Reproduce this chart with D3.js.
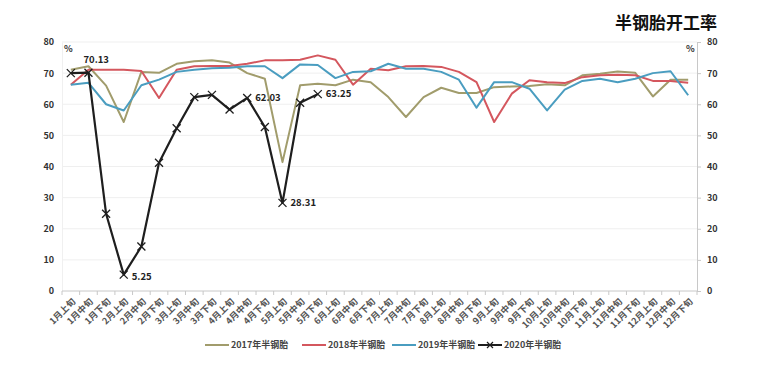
<!DOCTYPE html>
<html>
<head>
<meta charset="utf-8">
<script src="https://cdn.jsdelivr.net/npm/d3@7"></script>
<style>
  body { margin: 0; background: #fff; }
  svg text { font-family: "Noto Sans CJK SC", "DejaVu Sans", sans-serif; }
</style>
</head>
<body>
<div id="chart"></div>
<script>
// categories: 36 ten-day periods
const months = d3.range(1, 13);
const parts = ["上旬", "中旬", "下旬"];
const categories = [];
months.forEach(m => parts.forEach(p => categories.push(m + "月" + p)));

const seriesNames = ["2017年半钢胎", "2018年半钢胎", "2019年半钢胎", "2020年半钢胎"];
const colors = ["#a19c6c", "#d4575e", "#4a9dc0", "#1e1e1e"];

const values2017 = [71.1, 72.2, 66.0, 54.3, 70.4, 70.1, 73.0, 73.8, 74.1, 73.4, 70.0, 68.2,
                    41.4, 66.1, 66.6, 66.1, 67.9, 67.1, 62.3, 55.9, 62.3, 65.3, 63.6, 63.6,
                    65.5, 65.7, 65.9, 66.4, 66.1, 69.3, 69.8, 70.5, 70.1, 62.5, 67.9, 67.9];
const values2018 = [66.3, 71.1, 71.1, 71.1, 70.7, 62.0, 71.1, 72.2, 72.3, 72.3, 73.0, 74.1,
                    74.1, 74.3, 75.7, 74.3, 66.3, 71.4, 70.9, 72.2, 72.3, 72.0, 70.4, 67.1,
                    54.3, 63.4, 67.7, 67.1, 66.8, 68.7, 69.3, 69.5, 69.3, 67.5, 67.5, 66.9];
const values2019 = [66.3, 66.9, 60.0, 58.0, 66.1, 67.9, 70.4, 71.1, 71.6, 71.7, 72.2, 72.2,
                    68.4, 72.8, 72.6, 68.4, 70.4, 70.6, 73.0, 71.4, 71.4, 70.4, 67.9, 58.9,
                    67.1, 67.1, 65.0, 58.0, 64.7, 67.5, 68.2, 67.1, 68.2, 70.0, 70.6, 62.9];
const values2020 = [70.0, 70.13, 24.8, 5.25, 14.3, 41.2, 52.3, 62.3, 63.0, 58.3, 62.03, 52.7,
                    28.31, 60.5, 63.25];
const labelled2020 = [1, 3, 10, 12, 14];

const yTicks = [0, 10, 20, 30, 40, 50, 60, 70, 80];

const width = 769, height = 373;
const margin = { top: 42, right: 72, bottom: 82, left: 62 };

const svg = d3.select("#chart").append("svg")
  .attr("width", width)
  .attr("height", height);

const x = d3.scaleBand()
  .domain(categories)
  .range([margin.left, width - margin.right]);

const y = d3.scaleLinear()
  .domain([0, 80])
  .range([height - margin.bottom, margin.top]);

const cx = d => x(d) + x.bandwidth() / 2;

// gridlines
svg.append("g")
  .selectAll("line")
  .data(yTicks.slice(1))
  .enter().append("line")
  .attr("x1", margin.left).attr("x2", width - margin.right)
  .attr("y1", d => y(d)).attr("y2", d => y(d))
  .attr("stroke", "#efefef").attr("stroke-width", 1);

// left axis
const leftAxis = svg.append("g")
  .attr("transform", `translate(${margin.left},0)`)
  .call(d3.axisLeft(y).tickValues(yTicks).tickSize(0).tickPadding(8));
leftAxis.select(".domain").attr("stroke", "#f0f0f0");

// right axis
const rightAxis = svg.append("g")
  .attr("transform", `translate(${width - margin.right},0)`)
  .call(d3.axisRight(y).tickValues(yTicks).tickSize(4).tickPadding(6));
rightAxis.select(".domain").attr("stroke", "#c8c8c8");
rightAxis.selectAll(".tick line").attr("stroke", "#c8c8c8");

svg.selectAll(".tick text")
  .attr("font-size", 9).attr("font-weight", "bold").attr("fill", "#333");

// bottom axis with ticks on band boundaries
const y0 = y(0);
const xAxis = svg.append("g");
xAxis.append("line")
  .attr("x1", margin.left).attr("x2", width - margin.right)
  .attr("y1", y0).attr("y2", y0)
  .attr("stroke", "#c8c8c8");
xAxis.selectAll("line.tk")
  .data(categories.concat([null]))
  .enter().append("line")
  .attr("class", "tk")
  .attr("x1", d => d === null ? width - margin.right : x(d))
  .attr("x2", d => d === null ? width - margin.right : x(d))
  .attr("y1", y0).attr("y2", y0 + 4)
  .attr("stroke", "#c8c8c8");
xAxis.selectAll("text")
  .data(categories)
  .enter().append("text")
  .attr("transform", d => `translate(${cx(d) + 3},${y0 + 9}) rotate(-45)`)
  .attr("text-anchor", "end")
  .attr("dy", "0.35em")
  .attr("font-size", 9).attr("font-weight", "bold").attr("fill", "#555")
  .text(d => d);

// % units
svg.append("text").attr("x", margin.left + 2).attr("y", 52)
  .attr("font-size", 9).attr("font-weight", "bold").attr("fill", "#333").text("%");
svg.append("text").attr("x", width - margin.right - 11).attr("y", 52)
  .attr("font-size", 9).attr("font-weight", "bold").attr("fill", "#333").text("%");

// title
svg.append("text")
  .attr("x", 717).attr("y", 29)
  .attr("text-anchor", "end")
  .attr("font-size", 17).attr("font-weight", "bold").attr("fill", "#111")
  .text("半钢胎开工率");

// lines
const line = d3.line()
  .x((d, i) => cx(categories[i]))
  .y(d => y(d));

const allSeries = [values2017, values2018, values2019, values2020];
allSeries.forEach((vals, k) => {
  svg.append("path")
    .datum(vals)
    .attr("fill", "none")
    .attr("stroke", colors[k])
    .attr("stroke-width", k === 3 ? 2.2 : 2)
    .attr("stroke-linejoin", "round")
    .attr("d", line);
});

// x markers on 2020
const mk = 4;
svg.append("g").selectAll("path")
  .data(values2020)
  .enter().append("path")
  .attr("d", (d, i) => {
    const px = cx(categories[i]), py = y(d);
    return `M${px - mk},${py - mk}L${px + mk},${py + mk}M${px - mk},${py + mk}L${px + mk},${py - mk}`;
  })
  .attr("stroke", colors[3]).attr("stroke-width", 1.3);

// data labels
svg.append("g").selectAll("text")
  .data(labelled2020)
  .enter().append("text")
  .attr("x", i => i === 1 ? cx(categories[i]) - 5 : cx(categories[i]) + 8)
  .attr("y", i => i === 1 ? y(values2020[i]) - 10 : (i === 3 ? y(values2020[i]) + 5 : y(values2020[i]) + 3))
  .attr("font-size", 9.5).attr("font-weight", "bold").attr("fill", "#222")
  .text(i => values2020[i].toFixed(2));

// legend
const legendX = [205, 302, 392, 478];
const legend = svg.append("g").selectAll("g")
  .data(seriesNames)
  .enter().append("g")
  .attr("transform", (d, i) => `translate(${legendX[i]},345)`);
legend.append("line")
  .attr("x1", 0).attr("x2", 24).attr("y1", 0).attr("y2", 0)
  .attr("stroke", (d, i) => colors[i]).attr("stroke-width", 2);
legend.filter((d, i) => i === 3).append("path")
  .attr("d", "M9,-3L15,3M9,3L15,-3")
  .attr("stroke", colors[3]).attr("stroke-width", 1.2);
legend.append("text")
  .attr("x", 26).attr("dy", "0.35em")
  .attr("font-size", 9).attr("font-weight", "bold").attr("fill", "#444")
  .text(d => d);
</script>
</body>
</html>
